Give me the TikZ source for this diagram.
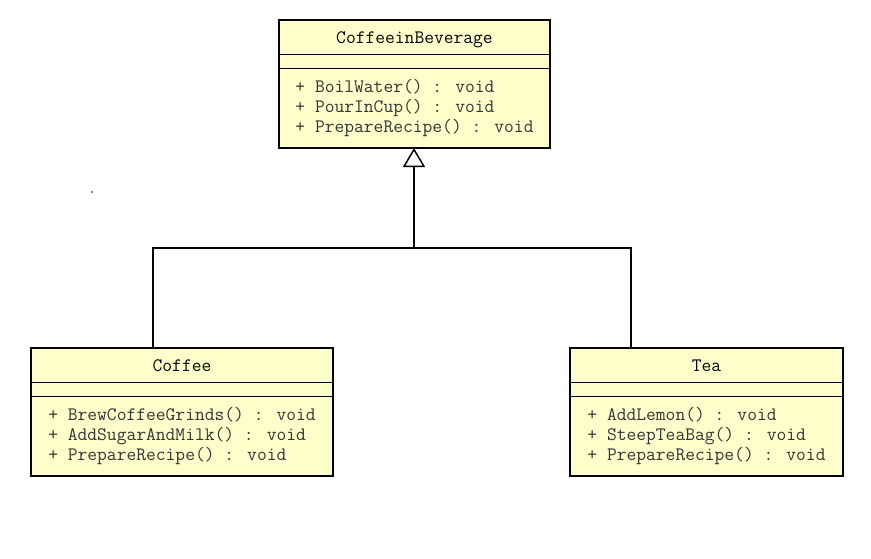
\documentclass[tikz,border=0pt]{standalone}
\usepackage{fontspec}
\usetikzlibrary{positioning,arrows.meta}
\definecolor{umlfill}{HTML}{FFFFCC}

\tikzset{
    namepart/.style={rectangle, draw, line width=1pt, fill=umlfill, outer sep=0pt, inner sep=0pt, minimum height=34pt, text height=13pt, text depth=1pt, font=\ttfamily\fontsize{19}{20}\selectfont},
    attrpart/.style={rectangle, draw, line width=1pt, fill=umlfill, outer sep=0pt, inner sep=0pt, minimum height=14pt},
    opspart/.style={rectangle, draw, line width=1pt, fill=umlfill, outer sep=0pt, inner xsep=8pt, inner ysep=0pt, minimum height=80pt, align=left, text=black!80, font=\ttfamily\fontsize{19}{20}\selectfont},
    classframe/.style={draw, line width=2.7pt},
    inherit/.style={line width=1.6pt, -{Triangle[open, length=19pt, width=22pt, line width=1.5pt]}}
}

\begin{document}
\begin{tikzpicture}[x=1pt, y=-1pt]
    \useasboundingbox (0,0) rectangle (871,558);

    % superclass
    \node[namepart, minimum width=271pt] (bevname) at (414.5,37) {CoffeeinBeverage};
    \node[attrpart, minimum width=271pt, below=0pt of bevname] (bevattr) {};
    \node[opspart, minimum width=271pt, below=0pt of bevattr] (bevops) {+ BoilWater() : void\\+ PourInCup() : void\\+ PrepareRecipe() : void};
    \draw[classframe] (bevname.north west) rectangle (bevops.south east);

    % subclasses
    \node[namepart, minimum width=302pt] (coffeename) at (182,365) {Coffee};
    \node[attrpart, minimum width=302pt, below=0pt of coffeename] (coffeeattr) {};
    \node[opspart, minimum width=302pt, below=0pt of coffeeattr] (coffeeops) {+ BrewCoffeeGrinds() : void\\+ AddSugarAndMilk() : void\\+ PrepareRecipe() : void};
    \draw[classframe] (coffeename.north west) rectangle (coffeeops.south east);

    \node[namepart, minimum width=273pt] (teaname) at (706.5,365) {Tea};
    \node[attrpart, minimum width=273pt, below=0pt of teaname] (teaattr) {};
    \node[opspart, minimum width=273pt, below=0pt of teaattr] (teaops) {+ AddLemon() : void\\+ SteepTeaBag() : void\\+ PrepareRecipe() : void};
    \draw[classframe] (teaname.north west) rectangle (teaops.south east);

    % generalization
    \coordinate (split) at (414,248);
    \coordinate (coffeeup) at (153,248);
    \coordinate (teaup) at (631,248);
    \draw[line width=1.5pt] (coffeeup |- coffeename.north) -- (coffeeup) -- (teaup) -- (teaup |- teaname.north);
    \draw[inherit] (split) -- (split |- bevops.south);

    \fill (92,192) circle (0.8pt);
\end{tikzpicture}
\end{document}
